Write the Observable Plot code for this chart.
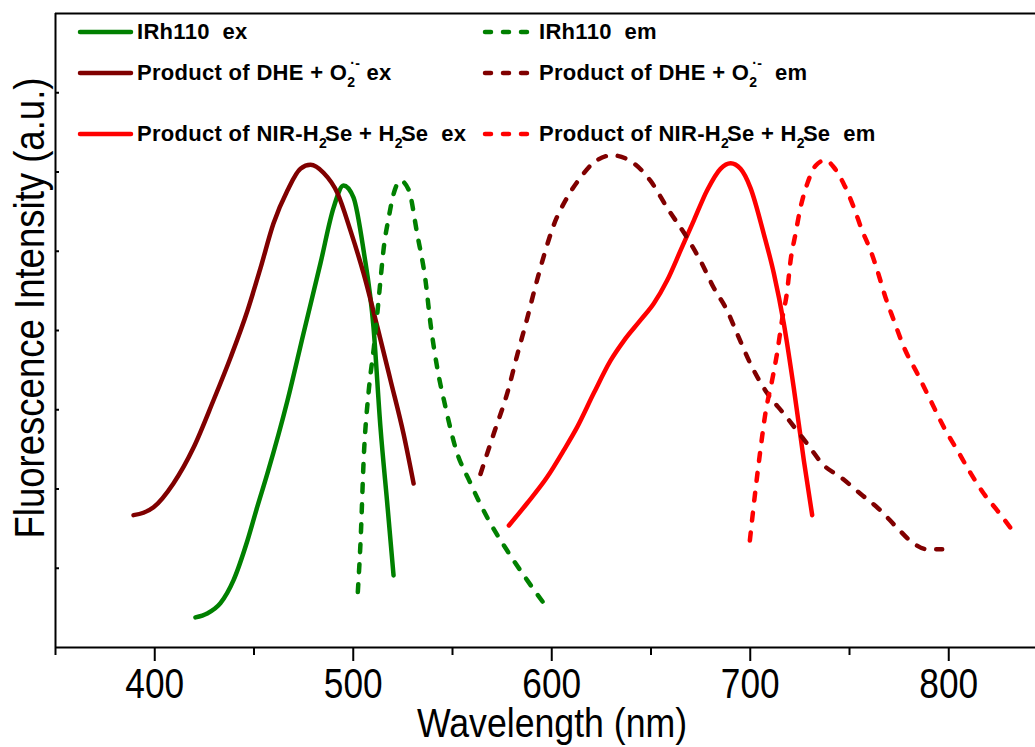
<!DOCTYPE html>
<html>
<head>
<meta charset="utf-8">
<script src="https://cdn.jsdelivr.net/npm/d3@7"></script>
<script src="https://cdn.jsdelivr.net/npm/@observablehq/plot@0.6"></script>
<style>
  html, body { margin: 0; padding: 0; background: #fff; }
  #chart { width: 1035px; height: 747px; overflow: hidden; }
</style>
</head>
<body>
<div id="chart"></div>
<script>
// ---- Data (wavelength nm, intensity a.u.) ----
const irh110Ex = [[420.5,0.38],[426.4,0.43],[433.1,0.56],[439.7,0.85],[446.7,1.35],[451.6,1.77],[456.8,2.20],[466.9,3.12],[474.9,3.96],[483.5,4.85],[490.1,5.55],[495.1,5.83],[500.1,5.68],[505.2,5.01],[510.2,4.04],[513.7,2.78],[517.3,1.77],[520.3,0.91]];
const irh110Em = [[502.3,0.70],[503.7,1.35],[505.3,2.40],[507.8,3.24],[510.4,3.79],[512.1,4.21],[513.7,4.63],[515.4,5.05],[517.9,5.43],[520.4,5.73],[523.8,5.89],[528.0,5.77],[532.2,5.22],[536.4,4.63],[538.9,4.09],[542.3,3.53],[546.5,3.03],[551.5,2.52],[559.1,2.07],[567.5,1.64],[577.6,1.22],[587.6,0.85],[597.7,0.50]];
const dheEx = [[389.3,1.67],[394.3,1.70],[399.4,1.77],[409.4,2.07],[419.5,2.52],[429.6,3.12],[438.2,3.66],[446.7,4.25],[453.3,4.79],[459.8,5.35],[466.9,5.77],[473.4,6.04],[478.5,6.09],[485.0,5.99],[492.1,5.73],[498.6,5.26],[505.2,4.72],[512.2,4.04],[518.8,3.37],[525.3,2.70],[530.4,2.07]];
const dheEm = [[564.1,2.19],[570.8,2.70],[577.6,3.21],[582.6,3.69],[587.6,4.15],[591.8,4.56],[596.0,4.94],[601.0,5.33],[607.8,5.68],[614.5,5.93],[621.2,6.12],[630.4,6.21],[641.3,6.11],[649.7,5.89],[658.1,5.55],[668.2,5.17],[674.9,4.88],[681.6,4.54],[688.4,4.25],[693.4,3.96],[700.1,3.58],[708.5,3.21],[716.9,2.95],[728.7,2.57],[737.0,2.30],[745.5,2.15],[755.5,1.94],[765.6,1.73],[774.0,1.51],[782.4,1.31],[789.1,1.24],[796.7,1.24]];
const nirEx = [[578.4,1.54],[587.6,1.82],[597.7,2.15],[606.1,2.49],[612.8,2.78],[621.2,3.21],[629.6,3.62],[636.3,3.87],[644.7,4.13],[651.4,4.34],[658.1,4.63],[664.9,5.01],[671.6,5.39],[678.3,5.77],[685.0,6.04],[690.1,6.11],[695.1,6.04],[700.1,5.80],[706.8,5.22],[711.9,4.72],[716.9,4.09],[721.9,3.28],[727.0,2.36],[731.2,1.67]];
const nirEm = [[699.8,1.35],[702.6,1.98],[705.1,2.49],[707.6,2.95],[711.0,3.37],[713.5,3.71],[716.0,4.13],[718.6,4.50],[720.3,4.88],[722.8,5.22],[725.3,5.55],[728.7,5.85],[732.9,6.08],[737.9,6.15],[742.1,6.06],[747.1,5.85],[752.2,5.55],[756.4,5.26],[760.6,5.01],[764.0,4.76],[768.1,4.42],[772.3,4.13],[777.4,3.79],[784.1,3.46],[790.8,3.12],[797.5,2.78],[804.3,2.49],[811.0,2.20],[817.7,1.94],[824.4,1.73],[832.0,1.48]];

const majorTicks = [400, 500, 600, 700, 800];
const minorTicks = [350, 450, 550, 650, 750];
const yTicks = [1, 2, 3, 4, 5, 6, 7];
const xDomain = [350, 843.7];
const yDomain = [0, 8];
const xTitle = "Wavelength (nm)";
const yTitle = "Fluorescence Intensity (a.u.)";

const GREEN = "#008000", DARKRED = "#800000", RED = "#ff0000";
const DASH = "8,12";
const series = [
  {data: irh110Ex, color: GREEN, dash: null},
  {data: dheEx, color: DARKRED, dash: null},
  {data: nirEx, color: RED, dash: null},
  {data: irh110Em, color: GREEN, dash: DASH},
  {data: dheEm, color: DARKRED, dash: DASH},
  {data: nirEm, color: RED, dash: DASH}
];

const FONT = "'Liberation Sans', Arial, Helvetica, sans-serif";

const plot = Plot.plot({
  width: 1035,
  height: 747,
  marginLeft: 55,
  marginRight: 0,
  marginTop: 13,
  marginBottom: 100,
  style: {fontFamily: FONT, background: "#fff", color: "#000"},
  x: {domain: xDomain},
  y: {domain: yDomain},
  marks: [
    Plot.axisX({ticks: minorTicks, tickSize: 8, text: null, label: null, strokeWidth: 2}),
    Plot.axisX({ticks: majorTicks, tickSize: 14, tickPadding: 7, fontSize: 42, label: null, strokeWidth: 2, tickFormat: d => String(d)}),
    Plot.axisY({ticks: yTicks, tickSize: 4, dx: 4, text: null, label: null, strokeWidth: 2}),
    Plot.ruleY([yDomain[0]], {strokeWidth: 2}),
    Plot.ruleY([yDomain[1]], {strokeWidth: 2}),
    Plot.ruleX([xDomain[0]], {strokeWidth: 2}),
    ...series.map(s => Plot.line(s.data, {
      stroke: s.color, strokeWidth: 4.5, curve: "monotone-x",
      strokeLinecap: "round", strokeLinejoin: "round",
      strokeDasharray: s.dash || undefined
    }))
  ]
});
document.getElementById("chart").appendChild(plot);

const svg = d3.select(plot);
// squeeze tick labels horizontally (narrow font look)
svg.selectAll('g[aria-label="x-axis tick label"] text').each(function() {
  const t = this.getAttribute("transform") || "";
  this.setAttribute("transform", t + " scale(0.84,1)");
});

// axis titles
svg.append("text")
  .attr("transform", "translate(552,737) scale(0.87,1)")
  .attr("text-anchor", "middle")
  .attr("font-family", FONT).attr("font-size", 41).attr("fill", "#000")
  .text(xTitle);
svg.append("text")
  .attr("transform", "translate(44,308) rotate(-90) scale(0.87,1)")
  .attr("text-anchor", "middle")
  .attr("font-family", FONT).attr("font-size", 42).attr("fill", "#000")
  .text(yTitle);

// legend
const legend = svg.append("g")
  .attr("font-family", FONT).attr("font-weight", "bold").attr("font-size", 22)
  .attr("letter-spacing", 0.3)
  .attr("fill", "#000").attr("text-anchor", "start");
function addEntry(x1, x2, tx, y, color, dash, kind, tail) {
  const line = legend.append("line").attr("x1", x1).attr("x2", x2).attr("y1", y).attr("y2", y)
    .attr("stroke", color).attr("stroke-width", 4.5).attr("stroke-linecap", "round");
  if (dash) line.attr("stroke-dasharray", "6,12");
  const t = legend.append("text").attr("x", tx).attr("y", y + 7).attr("text-anchor", "start").style("white-space", "pre");
  if (kind === "IRh") {
    t.append("tspan").text("IRh110  " + tail);
  } else if (kind === "DHE") {
    t.append("tspan").text("Product of DHE + O");
    t.append("tspan").attr("font-size", 14).attr("dy", 7).text("2");
    t.append("tspan").attr("font-size", 14).attr("dx", -5).attr("dy", -19).text("·-");
    t.append("tspan").attr("dy", 12).text((tail === "ex" ? " " : "  ") + tail);
  } else {
    t.append("tspan").text("Product of NIR-H");
    t.append("tspan").attr("font-size", 14).attr("dy", 7).text("2");
    t.append("tspan").attr("dx", -2).attr("dy", -7).text("Se + H");
    t.append("tspan").attr("font-size", 14).attr("dy", 7).text("2");
    t.append("tspan").attr("dx", -2).attr("dy", -7).text("Se  " + tail);
  }
}
addEntry(80, 131, 137, 32, GREEN, false, "IRh", "ex");
addEntry(80, 131, 137, 73, DARKRED, false, "DHE", "ex");
addEntry(80, 131, 137, 134, RED, false, "NIR", "ex");
addEntry(485, 530, 539, 32, GREEN, true, "IRh", "em");
addEntry(485, 530, 539, 73, DARKRED, true, "DHE", "em");
addEntry(485, 530, 539, 134, RED, true, "NIR", "em");
</script>
</body>
</html>
